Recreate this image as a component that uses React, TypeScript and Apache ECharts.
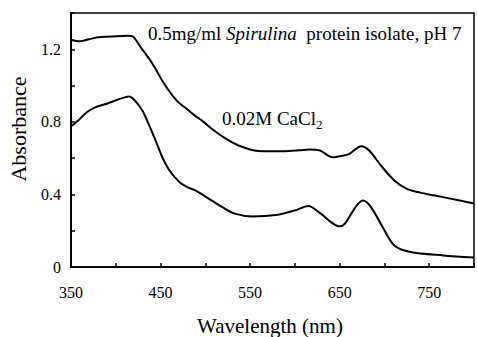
import React, { useEffect, useRef } from "react";
import * as echarts from "echarts";

const FONT = "Liberation Serif, Times New Roman, serif";

const wlPH7 = [350, 360, 370, 380, 395, 413, 419, 428, 441, 454, 468, 477, 487, 498, 509, 522, 537, 559, 587, 605, 616, 628, 642, 652, 661, 674, 683, 696, 711, 725, 740, 755, 784, 800];
const absPH7 = [1.253, 1.244, 1.255, 1.266, 1.27, 1.275, 1.27, 1.21, 1.12, 1.01, 0.917, 0.88, 0.84, 0.8, 0.755, 0.71, 0.67, 0.64, 0.638, 0.643, 0.648, 0.642, 0.605, 0.612, 0.624, 0.666, 0.642, 0.56, 0.477, 0.431, 0.41, 0.395, 0.367, 0.35];

const wlCaCl2 = [350, 358, 367, 377, 390, 399, 408, 415, 423, 430, 435, 443, 452, 460, 471, 480, 489, 504, 519, 533, 552, 581, 600, 615, 629, 641, 650, 656, 663, 670, 676, 685, 700, 711, 729, 766, 800];
const absCaCl2 = [0.774, 0.807, 0.85, 0.88, 0.9, 0.917, 0.932, 0.94, 0.908, 0.86, 0.807, 0.715, 0.605, 0.532, 0.468, 0.44, 0.422, 0.376, 0.33, 0.294, 0.279, 0.288, 0.312, 0.336, 0.294, 0.245, 0.224, 0.24, 0.294, 0.345, 0.367, 0.33, 0.202, 0.119, 0.083, 0.064, 0.052];

const xLabels = [350, 450, 550, 650, 750];
const yLabels = [0, 0.4, 0.8, 1.2];

const pairs = (xs: number[], ys: number[]) => xs.map((x, i) => [x, ys[i]]);

export default function App() {
  const ref = useRef<HTMLDivElement>(null);
  useEffect(() => {
    if (!ref.current) return;
    const chart = echarts.init(ref.current, null, { renderer: "svg" });
    const lineStyle = { color: "#000", width: 2 };
    chart.setOption({
      animation: false,
      backgroundColor: "#fff",
      textStyle: { fontFamily: FONT },
      grid: { left: 71, right: 1, top: 13, bottom: 70, show: true, borderColor: "#000", borderWidth: 1.5, backgroundColor: "transparent" },
      xAxis: {
        type: "value",
        min: 350,
        max: 800,
        interval: 50,
        axisLine: { lineStyle: { color: "#000", width: 2 } },
        axisTick: { inside: true, length: 4, lineStyle: { color: "#000", width: 1.5 } },
        splitLine: { show: false },
        axisLabel: {
          fontFamily: FONT,
          fontSize: 16,
          color: "#000",
          margin: 17,
          formatter: (v: number) => (xLabels.includes(v) ? String(v) : ""),
        },
      },
      yAxis: {
        type: "value",
        min: 0,
        max: 1.4,
        interval: 0.2,
        axisLine: { show: true, lineStyle: { color: "#000", width: 2 } },
        axisTick: { show: true, inside: true, length: 4, lineStyle: { color: "#000", width: 1.5 } },
        splitLine: { show: false },
        axisLabel: {
          fontFamily: FONT,
          fontSize: 16,
          color: "#000",
          margin: 10,
          formatter: (v: number) => {
            const r = Math.round(v * 10) / 10;
            return yLabels.some((l) => Math.abs(l - r) < 1e-6) ? String(r) : "";
          },
        },
      },
      series: [
        { type: "line", name: "pH 7", data: pairs(wlPH7, absPH7), smooth: 0.3, showSymbol: false, lineStyle },
        { type: "line", name: "0.02M CaCl2", data: pairs(wlCaCl2, absCaCl2), smooth: 0.3, showSymbol: false, lineStyle },
      ],
      graphic: [
        {
          type: "text",
          x: 148,
          y: 33,
          style: {
            text: "0.5mg/ml {i|Spirulina}  protein isolate, pH 7",
            fontFamily: FONT,
            fontSize: 19,
            fill: "#000",
            verticalAlign: "middle",
            rich: { i: { fontStyle: "italic", fontFamily: FONT, fontSize: 19 } },
          },
        },
        {
          type: "text",
          x: 222,
          y: 118,
          style: { text: "0.02M CaCl", fontFamily: FONT, fontSize: 19, fill: "#000", verticalAlign: "middle" },
        },
        {
          type: "text",
          x: 316,
          y: 124,
          style: { text: "2", fontFamily: FONT, fontSize: 13, fill: "#000", verticalAlign: "middle" },
        },
        {
          type: "text",
          x: 18,
          y: 129,
          rotation: Math.PI / 2,
          style: { text: "Absorbance", fontFamily: FONT, fontSize: 22, fill: "#000", align: "center", verticalAlign: "middle" },
        },
        {
          type: "text",
          x: 270,
          y: 326,
          style: { text: "Wavelength (nm)", fontFamily: FONT, fontSize: 21, fill: "#000", align: "center", verticalAlign: "middle" },
        },
      ],
    });
    return () => chart.dispose();
  }, []);
  return <div ref={ref} style={{ width: 477, height: 337, position: "absolute", left: 0, top: 0 }} />;
}
